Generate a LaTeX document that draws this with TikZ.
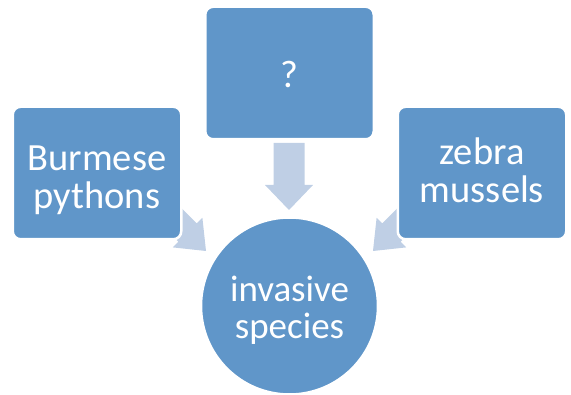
\documentclass[tikz,border=0pt]{standalone}
\usepackage{fontspec}
\setmainfont{Carlito}
\definecolor{boxblue}{RGB}{96,150,201}
\definecolor{arrowblue}{RGB}{191,207,229}
\begin{document}
\begin{tikzpicture}[x=1pt,y=-1pt,
  blk/.style={fill=boxblue, draw=white, line width=2.5pt, rounded corners=8pt,
    rectangle, minimum width=168.5pt, minimum height=132.5pt, inner sep=0pt},
  circ/.style={fill=boxblue, draw=white, line width=2.5pt, circle,
    minimum size=177pt, inner sep=0pt},
  arr/.style={fill=arrowblue},
  lbl/.style={text=white, font=\fontsize{38.5}{36}\selectfont, anchor=base, inner sep=0pt},
  clbl/.style={lbl, font=\fontsize{37}{36}\selectfont}]
\useasboundingbox (0,0) rectangle (571,395);
% block arrows (behind the shapes)
\fill[arr] (273.5,143) -- (304.5,143) -- (304.5,185) -- (313,185) -- (289,210)
  -- (265,185) -- (273.5,185) -- cycle;
\fill[arr] (161.4,188.0) -- (196.8,223.4) -- (202.4,217.8) -- (206,251)
  -- (172.8,247.4) -- (178.4,241.8) -- (143.0,206.4) -- cycle;
\fill[arr] (417.6,188.0) -- (382.2,223.4) -- (376.6,217.8) -- (373,251)
  -- (406.2,247.4) -- (400.6,241.8) -- (436.0,206.4) -- cycle;
% shapes
\node[blk] (burm) at (97,173) {};
\node[blk] (quest) at (289.5,73) {};
\node[blk] (zebra) at (482,173) {};
\node[circ] (inv) at (289.5,306) {};
% texts
\node[lbl] (tburm) at (97,171) {\begin{tabular}[t]{@{}c@{}}Burmese\\pythons\end{tabular}};
\node[lbl] (tquest) at (289.5,88) {?};
\node[lbl] (tzebra) at (482,165) {\begin{tabular}[t]{@{}c@{}}zebra\\mussels\end{tabular}};
\node[clbl] (tinv) at (289.5,302) {\begin{tabular}[t]{@{}c@{}}invasive\\species\end{tabular}};
\end{tikzpicture}
\end{document}
